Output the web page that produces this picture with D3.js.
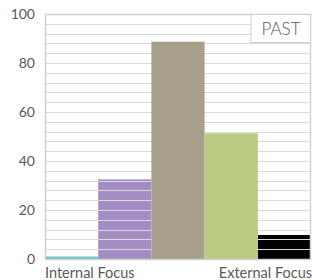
<!DOCTYPE html>
<html>
<head>
<meta charset="utf-8">
<script src="https://cdn.jsdelivr.net/npm/d3@7"></script>
<style>
  body { margin: 0; background: #fff; }
  text { font-family: Lato, "Open Sans", sans-serif; fill: #595959; }
</style>
</head>
<body>
<div id="graph"></div>
<script>
var categories = ["c1", "c2", "c3", "c4", "c5"];
var values = [1, 32.5, 88.7, 51.3, 9.8];
var colors = ["#6cc0c8", "#a28cc4", "#a89f8a", "#b8cb80", "#000000"];
var overGrid = [false, false, true, true, false];
var yTicks = [0, 20, 40, 60, 80, 100];
var axisLabels = ["Internal Focus", "External Focus"];
var badge = "PAST";

var margin = {top: 14, right: 1, bottom: 21, left: 45},
    width = 312 - margin.left - margin.right,
    height = 280 - margin.top - margin.bottom;

var x = d3.scaleBand().domain(categories).range([0, width]).padding(0);
var y = d3.scaleLinear().domain([0, 100]).range([height, 0]);

var svg = d3.select("#graph").append("svg")
    .attr("width", 312)
    .attr("height", 280)
  .append("g")
    .attr("transform", "translate(" + margin.left + "," + margin.top + ")");

function drawBars(flag) {
  svg.selectAll(".bar" + flag)
    .data(values.map(function(v, i) { return {v: v, i: i}; }).filter(function(d) { return overGrid[d.i] === flag; }))
    .enter().append("rect")
    .attr("x", function(d) { return x(categories[d.i]); })
    .attr("y", function(d) { return y(d.v); })
    .attr("width", x.bandwidth())
    .attr("height", function(d) { return height - y(d.v); })
    .attr("fill", function(d) { return colors[d.i]; });
}

// bars that sit under the grid
drawBars(false);

// grid lines every 4
svg.selectAll(".grid")
  .data(d3.range(4, 100, 4))
  .enter().append("line")
  .attr("x1", 0).attr("x2", width)
  .attr("y1", function(d) { return Math.round(y(d)) + 0.5; })
  .attr("y2", function(d) { return Math.round(y(d)) + 0.5; })
  .attr("stroke", "#d9d9d9")
  .attr("stroke-width", 1.2);

drawBars(true);

// frame
svg.append("rect")
  .attr("x", 0.5).attr("y", 0.5)
  .attr("width", width - 1).attr("height", height)
  .attr("fill", "none")
  .attr("stroke", "#d0d0d0")
  .attr("stroke-width", 1.5);

// y labels
svg.selectAll(".ylab")
  .data(yTicks)
  .enter().append("text")
  .attr("x", -10)
  .attr("y", function(d) { return y(d) + 5; })
  .attr("text-anchor", "end")
  .attr("font-size", 14)
  .text(function(d) { return d; });

// x labels
svg.append("text")
  .attr("x", 0).attr("y", height + 19)
  .attr("font-size", 14.5)
  .text(axisLabels[0]);
svg.append("text")
  .attr("x", width + 1).attr("y", height + 19)
  .attr("text-anchor", "end")
  .attr("font-size", 14.5)
  .text(axisLabels[1]);

// badge
var bw = 60, bh = 28;
svg.append("rect")
  .attr("x", width - bw).attr("y", 0.5)
  .attr("width", bw - 0.5).attr("height", bh)
  .attr("fill", "#fff")
  .attr("stroke", "#d0d0d0")
  .attr("stroke-width", 1);
svg.append("text")
  .attr("x", width - bw / 2).attr("y", 21)
  .attr("text-anchor", "middle")
  .attr("font-size", 17)
  .attr("font-weight", 300)
  .text(badge);
</script>
</body>
</html>
